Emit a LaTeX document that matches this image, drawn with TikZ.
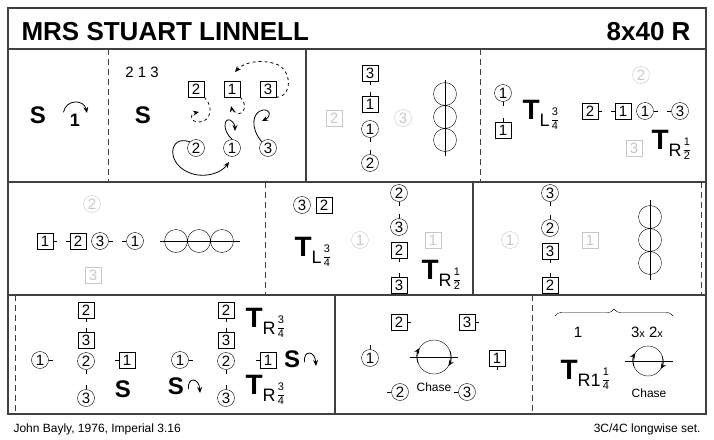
\documentclass[tikz,border=0pt]{standalone}
\usepackage{fontspec}
\setmainfont{Liberation Sans}
\usepackage{amsmath}
\usetikzlibrary{arrows.meta,decorations.pathreplacing}

\definecolor{ghostgrey}{gray}{0.78}
\definecolor{rulegrey}{gray}{0.25}

\newcommand{\dnum}{\fontsize{15}{15}\selectfont}
\newcommand{\bigS}{{\fontsize{24}{24}\selectfont\bfseries S}}
\newcommand{\frc}[2]{\raisebox{-3pt}{$\genfrac{}{}{0.5pt}{0}{\mbox{\fontsize{11}{11}\selectfont #1}}{\mbox{\fontsize{11}{11}\selectfont #2}}$}}
\newcommand{\turnT}[2]{{\fontsize{28}{28}\selectfont\bfseries T}\raisebox{-7pt}{\fontsize{18}{18}\selectfont #1}\kern1pt#2}

\tikzset{
  man/.style={draw, minimum size=16pt, inner sep=0pt, font=\dnum},
  lady/.style={draw, circle, minimum size=17pt, inner sep=0pt, font=\dnum},
  ghost/.style={draw=ghostgrey, text=ghostgrey},
  panelline/.style={draw=rulegrey, line width=1.2pt},
  barline/.style={draw=rulegrey, line width=1pt, dash pattern=on 6pt off 4pt},
  track/.style={-{Stealth[length=6pt,width=5pt]}, line width=0.8pt},
  smalltext/.style={font=\fontsize{12}{12}\selectfont},
}

\begin{document}
\begin{tikzpicture}[x=1pt,y=-1pt]
	\useasboundingbox (0,0) rectangle (714,439);
	
	% frame
	\draw[panelline] (8,8) rectangle (706,414);
	\draw[panelline] (8,49) -- (706,49);
	\draw[panelline] (8,182) -- (706,182);
	\draw[panelline] (8,295) -- (706,295);
	\draw[panelline] (306,49) -- (306,182);
	\draw[panelline] (473,182) -- (473,295);
	\draw[panelline] (335,295) -- (335,414);
	\draw[barline] (108,49) -- (108,182);
	\draw[barline] (480,49) -- (480,182);
	\draw[barline] (265,182) -- (265,295);
	\draw[barline] (701,182) -- (701,295);
	\draw[barline] (15,295) -- (15,414);
	\draw[barline] (532,295) -- (532,414);
	
	\node[anchor=base west, font=\fontsize{26}{26}\selectfont\bfseries] (title) at (18,40) {MRS STUART LINNELL};
	\node[anchor=base east, font=\fontsize{26}{26}\selectfont\bfseries] (bars) at (694,40) {8x40 R};
	
	% row 1
	\node (sA) at (38,115) {\bigS};
	\node[font=\fontsize{18}{18}\selectfont\bfseries] (oneA) at (75,120) {1};
	\draw[track] (oneA.north west) ++(-3,2) .. controls (66,99) and (84,99) .. (87,113);
	
	\node[font=\fontsize{15}{15}\selectfont] (orderB) at (142,72) {2 1 3};
	\node (sB) at (143,115) {\bigS};
	\node[man] (m2B) at (196,89) {2};
	\node[man] (m1B) at (232,89) {1};
	\node[man] (m3B) at (268,89) {3};
	\node[lady] (w2B) at (196,148) {2};
	\node[lady] (w1B) at (232,148) {1};
	\node[lady] (w3B) at (268,148) {3};
	\draw[track, dashed] (m3B.south east) .. controls (292,98) and (293,70) .. (276,64) .. controls (262,59) and (244,62) .. (235,72);
	\draw[track, dashed] (m2B.south east) .. controls (214,106) and (211,122) .. (199,122) .. controls (190,122) and (189,114) .. (199,112);
	\draw[track, dashed] (m1B.south east) .. controls (248,104) and (244,116) .. (237,113) .. controls (234,112) and (232,110) .. (231,106);
	\draw[track] (w1B.north) .. controls (222,130) and (224,118) .. (230,120) .. controls (234,122) and (235,126) .. (235,131);
	\draw[track] (w3B.north west) .. controls (250,128) and (252,112) .. (263,110) .. controls (270,109) and (272,116) .. (262,121);
	\draw[track] (w2B.north west) .. controls (168,134) and (165,166) .. (193,174) .. controls (208,178) and (222,172) .. (229,162);
	
	\node[man] (m3C) at (370,73) {3};
	\node[man] (m1C) at (370,104) {1};
	\node[lady] (w1C) at (370,129) {1};
	\node[lady] (w2C) at (370,163) {2};
	\node[man, ghost] (m2C) at (334,118) {2};
	\node[lady, ghost] (w3C) at (403,118) {3};
	\draw (m3C.south) -- ++(0,4);
	\draw (m1C.north) -- ++(0,-4);
	\draw (w1C.south) -- ++(0,4);
	\draw (w2C.north) -- ++(0,-4);
	\draw (445,94) circle[radius=11.5] (445,117) circle[radius=11.5] (445,140) circle[radius=11.5];
	\draw (445,80) -- (445,156);
	
	\node[lady] (w1D) at (503,93) {1};
	\node[man] (m1D) at (503,130) {1};
	\draw (w1D.south) -- ++(0,4);
	\draw (m1D.north) -- ++(0,-4);
	\node[anchor=west] (tD) at (519,115) {\turnT{L}{\frc{3}{4}}};
	\node[lady, ghost] (w2D) at (641,75) {2};
	\node[man] (m2D) at (590,111) {2};
	\node[man] (m1D2) at (623,111) {1};
	\node[lady] (w1D2) at (645,111) {1};
	\node[lady] (w3D) at (680,111) {3};
	\draw (m2D.east) -- ++(4,0);
	\draw (m1D2.west) -- ++(-4,0);
	\draw (w1D2.east) -- ++(4,0);
	\draw (w3D.west) -- ++(-4,0);
	\node[man, ghost] (m3D) at (634,148) {3};
	\node[anchor=west] (tD2) at (648,145) {\turnT{R}{\frc{1}{2}}};
	
	% row 2
	\node[lady, ghost] (w2E) at (92,204) {2};
	\node[man] (m1E) at (45,241) {1};
	\node[man] (m2E) at (78,241) {2};
	\node[lady] (w3E) at (100,241) {3};
	\node[lady] (w1E) at (135,241) {1};
	\draw (m1E.east) -- ++(4,0);
	\draw (m2E.west) -- ++(-4,0);
	\draw (w3E.east) -- ++(4,0);
	\draw (w1E.west) -- ++(-4,0);
	\node[man, ghost] (m3E) at (93,275) {3};
	\draw (176,241) circle[radius=11.5] (199,241) circle[radius=11.5] (222,241) circle[radius=11.5];
	\draw (160,241) -- (240,241);
	
	\node[lady] (w3F) at (302,205) {3};
	\node[man] (m2F) at (324,205) {2};
	\node[anchor=west] (tF) at (291,252) {\turnT{L}{\frc{3}{4}}};
	\node[lady, ghost] (w1F) at (360,240) {1};
	\node[man, ghost] (m1F) at (433,240) {1};
	\node[lady] (w2F) at (399,193) {2};
	\node[lady] (w3F2) at (399,227) {3};
	\node[man] (m2F2) at (399,250) {2};
	\node[man] (m3F) at (399,285) {3};
	\draw (w2F.south) -- ++(0,4);
	\draw (w3F2.north) -- ++(0,-4);
	\draw (m2F2.south) -- ++(0,4);
	\draw (m3F.north) -- ++(0,-4);
	\node[anchor=west] (tF2) at (418,275) {\turnT{R}{\frc{1}{2}}};
	
	\node[lady, ghost] (w1G) at (510,240) {1};
	\node[lady] (w3G) at (550,193) {3};
	\node[lady] (w2G) at (550,228) {2};
	\node[man] (m3G) at (550,251) {3};
	\node[man] (m2G) at (550,285) {2};
	\draw (w3G.south) -- ++(0,4);
	\draw (w2G.north) -- ++(0,-4);
	\draw (m3G.south) -- ++(0,4);
	\draw (m2G.north) -- ++(0,-4);
	\node[man, ghost] (m1G) at (590,240) {1};
	\draw (650,217) circle[radius=11.5] (650,240) circle[radius=11.5] (650,263) circle[radius=11.5];
	\draw (650,200) -- (650,280);
	
	% row 3
	\node[lady] (w1H) at (40,360) {1};
	\node[man] (m2H) at (86,310) {2};
	\node[man] (m3H) at (86,340) {3};
	\node[lady] (w2H) at (86,361) {2};
	\node[lady] (w3H) at (86,398) {3};
	\node[man] (m1H) at (127,360) {1};
	\draw (w1H.east) -- ++(4,0);
	\draw (m2H.south) -- ++(0,4);
	\draw (m3H.north) -- ++(0,-4);
	\draw (w2H.south) -- ++(0,4);
	\draw (w3H.north) -- ++(0,-4);
	\draw (m1H.west) -- ++(-4,0);
	\node (sH) at (123,389) {\bigS};
	
	\node[lady] (w1H2) at (180,360) {1};
	\node[man] (m2H2) at (226,310) {2};
	\node[man] (m3H2) at (226,340) {3};
	\node[lady] (w2H2) at (226,361) {2};
	\node[lady] (w3H2) at (226,398) {3};
	\node[man] (m1H2) at (268,360) {1};
	\draw (w1H2.east) -- ++(4,0);
	\draw (m2H2.south) -- ++(0,4);
	\draw (m3H2.north) -- ++(0,-4);
	\draw (w2H2.south) -- ++(0,4);
	\draw (w3H2.north) -- ++(0,-4);
	\draw (m1H2.west) -- ++(-4,0);
	\node[anchor=west] (tH) at (242,323) {\turnT{R}{\frc{3}{4}}};
	\node[anchor=west] (tH2) at (242,390) {\turnT{R}{\frc{3}{4}}};
	\node (sH2) at (292,359) {\bigS};
	\draw[track] (sH2.east) ++(1,3) .. controls (303,350) and (315,350) .. (316,366);
	\node (sH3) at (176,386) {\bigS};
	\draw[track] (sH3.east) ++(1,3) .. controls (187,377) and (199,377) .. (200,393);
	
	\node[man] (m2I) at (399,322) {2};
	\node[man] (m3I) at (467,322) {3};
	\node[lady] (w1I) at (370,358) {1};
	\node[man] (m1I) at (497,358) {1};
	\node[lady] (w2I) at (400,392) {2};
	\node[lady] (w3I) at (467,392) {3};
	\draw (m2I.east) -- ++(4,0);
	\draw (m3I.east) -- ++(4,0);
	\draw (w1I.north) -- ++(0,-4);
	\draw (m1I.south) -- ++(0,4);
	\draw (w2I.west) -- ++(-4,0);
	\draw (w3I.west) -- ++(-4,0);
	\node[circle, draw, minimum size=34pt] (chaseI) at (434,357) {};
	\draw (410,357) -- (458,357);
	\draw[track] ([shift={(160:17)}]chaseI.center) arc[start angle=160, end angle=212, radius=17];
	\draw[track] ([shift={(-20:17)}]chaseI.center) arc[start angle=-20, end angle=32, radius=17];
	\node[smalltext] (chaseTxtI) at (434,387) {Chase};
	
	\draw[decorate, decoration={brace, amplitude=7pt}] (555,316) -- (673,316);
	\node[font=\fontsize{15}{15}\selectfont] (oneJ) at (578,332) {1};
	\node[font=\fontsize{15}{15}\selectfont] (crossJ) at (647,332) {3{\fontsize{11}{11}\selectfont x} 2{\fontsize{11}{11}\selectfont x}};
	\node[anchor=west] (tJ) at (557,375) {\turnT{R1}{\frc{1}{4}}};
	\node[circle, draw, minimum size=30pt] (chaseJ) at (648,361) {};
	\draw (625,361) -- (673,361);
	\draw[track] ([shift={(160:15)}]chaseJ.center) arc[start angle=160, end angle=212, radius=15];
	\draw[track] ([shift={(-20:15)}]chaseJ.center) arc[start angle=-20, end angle=32, radius=15];
	\node[smalltext] (chaseTxtJ) at (649,393) {Chase};
	
	% footer
	\node[smalltext, anchor=base west] (source) at (10,432) {John Bayly, 1976, Imperial 3.16};
	\node[smalltext, anchor=base east] (set) at (704,432) {3C/4C longwise set.};
\end{tikzpicture}
\end{document}
